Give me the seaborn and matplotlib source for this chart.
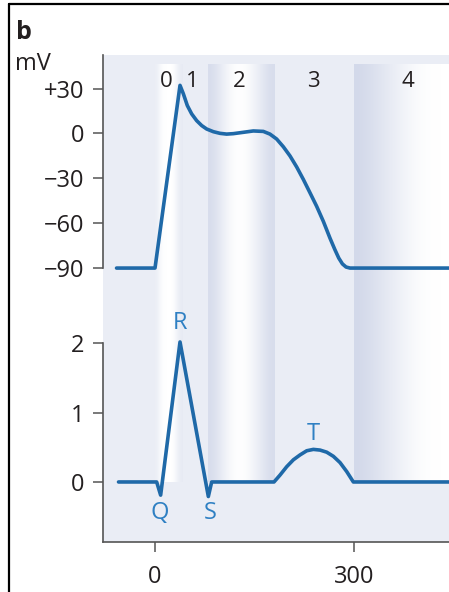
import numpy as np
import pandas as pd
import seaborn as sns
import matplotlib.pyplot as plt
from matplotlib.colors import LinearSegmentedColormap
from matplotlib.lines import Line2D

# ventricular action potential (ms, mV)
ap_time = [-58, 0, 37.7, 42.7, 48.7, 55.3, 62.8, 70.4, 77.9, 88.0, 98.0, 108.0,
           118.1, 133.2, 148.2, 163.3, 173.3, 183.4, 193.5, 203.5, 213.6, 223.6,
           233.7, 243.7, 253.8, 263.8, 271.0, 277.0, 282.5, 288.0, 294.0, 443]
ap_mv = [-90, -90, 32.2, 26.6, 18.7, 13.1, 8.6, 5.3, 3.0, 1.2, 0.1, -0.4,
         -0.1, 0.8, 1.7, 1.4, -0.4, -3.7, -8.9, -15.0, -22.4, -30.7,
         -39.7, -48.7, -58.8, -70.0, -77.5, -83.3, -87.2, -89.3, -90, -90]

# ECG (ms, mV)
ecg_time = [-55, 2.5, 8.5, 37.7, 80.4, 85.4, 179.4, 188.5, 198.5, 208.6, 218.6,
            228.7, 238.7, 248.8, 258.8, 268.9, 278.9, 289.0, 299.0, 443]
ecg_mv = [0, 0, -0.19, 2.02, -0.21, 0, 0, 0.10, 0.22, 0.32, 0.39,
          0.45, 0.47, 0.46, 0.43, 0.37, 0.28, 0.15, 0, 0]

phase_labels = ['0', '1', '2', '3', '4']
phase_x = [17.6, 55.8, 126.6, 238, 381]
band_start = [0, 80, 300]
band_end = [41, 181, 460]

wave_labels = ['Q', 'R', 'S', 'T']
wave_x = [6.5, 37.7, 84, 238.7]
wave_y = [-0.45, 2.29, -0.45, 0.69]

ap_ticks = [-90, -60, -30, 0, 30]
ap_ticklabels = ['\u221290', '\u221260', '\u221230', '0', '+30']
ecg_ticks = [0, 1, 2]
time_ticks = [0, 300]

sns.set_theme(style='ticks')
plt.rcParams['font.family'] = ['Open Sans', 'DejaVu Sans']

line_col = '#1f69a8'
wave_col = '#2f80c3'
bg_col = '#eaedf5'
text_col = '#231f20'

W, H = 449, 592
fig = plt.figure(figsize=(W / 100, H / 100), dpi=100)
left = 103 / W
split = (H - 305) / H
ax_ap = fig.add_axes([left, split, 1 - left, (H - 55) / H - split])
ax_ecg = fig.add_axes([left, (H - 542) / H, 1 - left, split - (H - 542) / H])

xlim = (-78.4, 443.2)
ap_ylim = (-114.7, 52.5)
ecg_ylim = (-0.866, 2.553)

# shaded bands (cylinder-like gradient)
cmap = LinearSegmentedColormap.from_list('band', ['#d3d9ea', '#ffffff'])
profiles = [[0.55, 0.9, 1, 1, 1, 0.7, 0.45],
            [0.1, 0.45, 0.8, 1, 0.95, 0.7, 0.4, 0.1],
            [0.0, 0.25, 0.5, 0.75, 0.95, 1, 1]]
for x0, x1, prof in zip(band_start, band_end, profiles):
    grad = np.array(prof)[np.newaxis, :]
    ax_ap.imshow(grad, cmap=cmap, vmin=0, vmax=1, aspect='auto', interpolation='bicubic',
                 extent=(x0, x1, ap_ylim[0], 46.4), zorder=0)
    ax_ecg.imshow(grad, cmap=cmap, vmin=0, vmax=1, aspect='auto', interpolation='bicubic',
                  extent=(x0, x1, 0, ecg_ylim[1]), zorder=0)

ap_df = pd.DataFrame({'time': ap_time, 'mV': ap_mv})
ecg_df = pd.DataFrame({'time': ecg_time, 'mV': ecg_mv})
sns.lineplot(data=ap_df, x='time', y='mV', ax=ax_ap, color=line_col, linewidth=2.6,
             sort=False, estimator=None)
sns.lineplot(data=ecg_df, x='time', y='mV', ax=ax_ecg, color=line_col, linewidth=2.6,
             sort=False, estimator=None)

for lab, x in zip(phase_labels, phase_x):
    ax_ap.text(x, 35, lab, ha='center', va='center', fontsize=16, color=text_col)
for lab, x, y in zip(wave_labels, wave_x, wave_y):
    ax_ecg.text(x, y, lab, ha='center', va='center', fontsize=17, color=wave_col)

for ax, ylim in [(ax_ap, ap_ylim), (ax_ecg, ecg_ylim)]:
    ax.set_facecolor(bg_col)
    ax.set_xlim(xlim)
    ax.set_ylim(ylim)
    ax.set_xlabel('')
    ax.set_ylabel('')
    ax.spines['top'].set_visible(False)
    ax.spines['right'].set_visible(False)
    ax.spines['left'].set_color('#555555')
    ax.spines['left'].set_linewidth(1.2)
    ax.tick_params(direction='out', length=7.5, width=1.1, color='#555555',
                   labelsize=17, labelcolor=text_col, pad=6)

ax_ap.spines['bottom'].set_visible(False)
ax_ap.spines['left'].set_bounds(-90, ap_ylim[1])
ax_ap.set_yticks(ap_ticks)
ax_ap.set_yticklabels(ap_ticklabels)
ax_ap.set_xticks([])

ax_ecg.spines['left'].set_bounds(ecg_ylim[0], 2)
ax_ecg.spines['bottom'].set_color('#555555')
ax_ecg.spines['bottom'].set_linewidth(1.2)
ax_ecg.set_yticks(ecg_ticks)
ax_ecg.set_xticks(time_ticks)
ax_ecg.tick_params(axis='x', pad=9)

fig.text(15 / W, (H - 70) / H, 'mV', fontsize=17, color=text_col, va='baseline')
fig.text(16 / W, (H - 39) / H, 'b', fontsize=18, fontweight='bold', color=text_col,
         va='baseline')
fig.add_artist(Line2D([8.5 / W, 1], [(H - 3.5) / H] * 2, color='black', lw=1.6))
fig.add_artist(Line2D([8.5 / W] * 2, [0, (H - 3.5) / H], color='black', lw=1.6))

fig.savefig('out.png', dpi=100)
